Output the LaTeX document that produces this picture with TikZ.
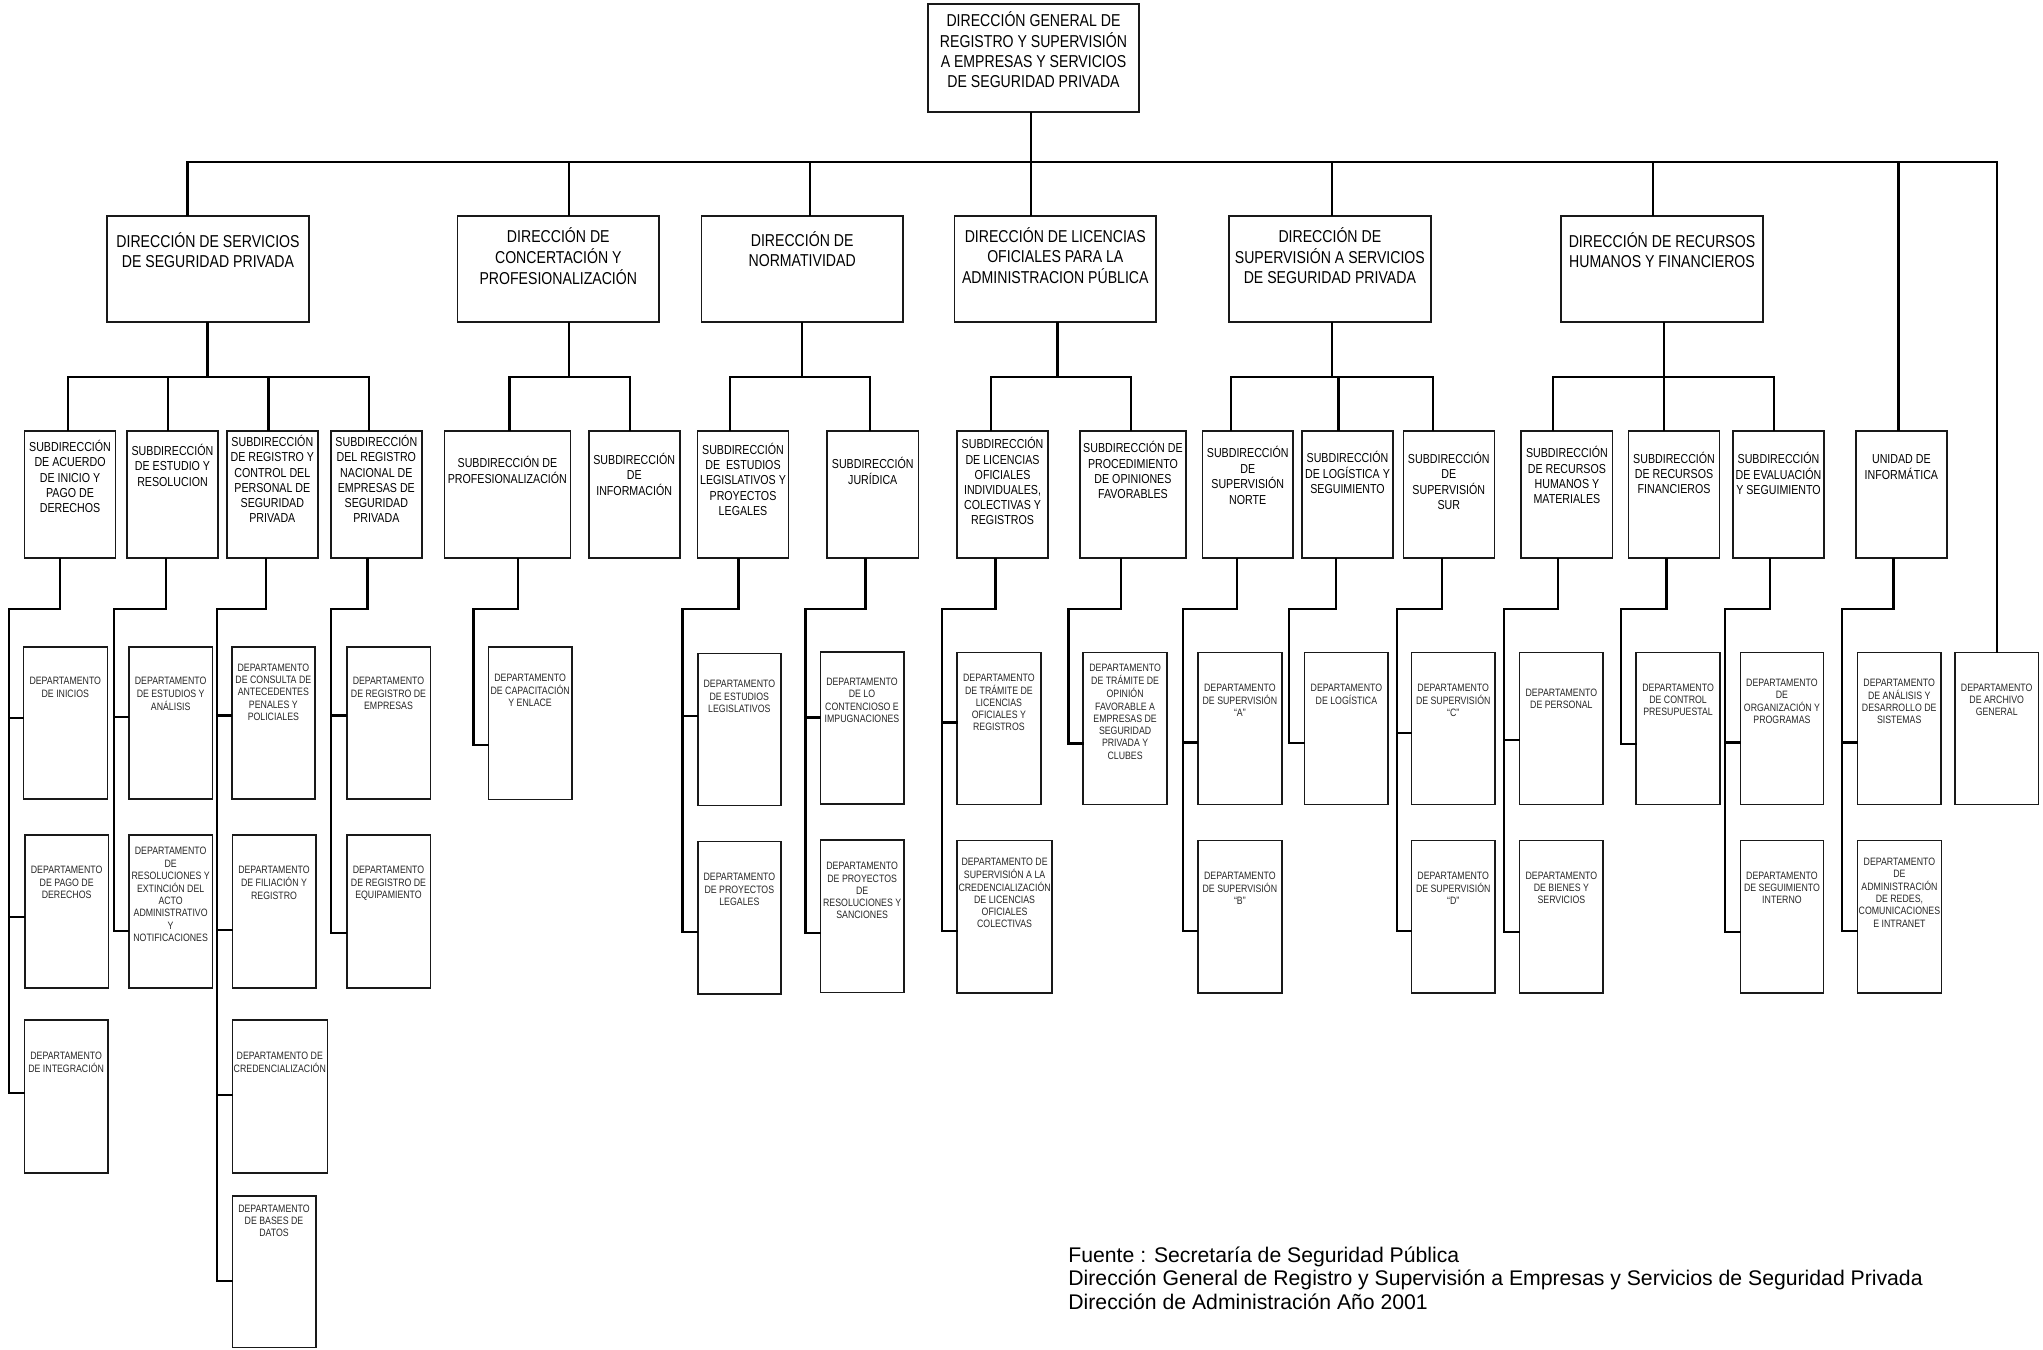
\documentclass[tikz,border=0pt]{standalone}
\usepackage{fontspec}
\setmainfont{Liberation Sans}
\newfontfamily\nar[FakeStretch=0.82]{Liberation Sans}
\usetikzlibrary{fit}
\newcommand\obox[8]{%
  \node[boxsty, fit={(#2,#3) (#4,#5)}] (#1) {};
  \node[#6] (#1t) at ({(#2+#4)/2},#7) {\begin{tabular}[t]{@{}c@{}}#8\end{tabular}};}
\newcommand\subtree[5]{%
  \draw[conn] (#1.south -| #2,0) -- (#2,609) -- (#3,609) -- (#3,#4);
  \foreach \nm/\yy in {#5} {\draw[conn] (#3,\yy) -- (\nm.west |- 0,\yy);}}
\begin{document}
\begin{tikzpicture}[x=0.5pt,y=-0.5pt,
  boxsty/.style={draw=black!90, line width=0.8pt, inner sep=0pt},
  conn/.style={draw=black, line width=1.2pt, line cap=rect},
  t1/.style={font=\nar\fontsize{8.6}{10}\selectfont, inner sep=0pt, anchor=base, yshift=-3.1pt},
  t2/.style={font=\nar\fontsize{6.5}{7.6}\selectfont, inner sep=0pt, anchor=base, yshift=-2.3pt},
  t3/.style={font=\nar\fontsize{5.35}{6.15}\selectfont, inner sep=0pt, anchor=base, yshift=-1.9pt, text=black!85}]
\useasboundingbox (0,0) rectangle (2043,1349);
% top
\obox{T}{928}{4}{1139}{112}{t1}{20.7}{DIRECCIÓN GENERAL DE\\REGISTRO Y SUPERVISIÓN\\A EMPRESAS Y SERVICIOS\\DE SEGURIDAD PRIVADA}
% directions
\obox{D1}{107}{216}{309}{322}{t1}{241.7}{DIRECCIÓN DE SERVICIOS\\DE SEGURIDAD PRIVADA}
\obox{D2}{457.6}{216}{659}{322}{t1}{236.7}{DIRECCIÓN DE\\CONCERTACIÓN Y\\PROFESIONALIZACIÓN}
\obox{D3}{701.6}{216}{902.7}{322}{t1}{240.7}{DIRECCIÓN DE\\NORMATIVIDAD}
\obox{D4}{954.6}{216}{1156}{322}{t1}{236}{DIRECCIÓN DE LICENCIAS\\OFICIALES PARA LA\\ADMINISTRACION PÚBLICA}
\obox{D5}{1229}{216}{1430.7}{322}{t1}{236}{DIRECCIÓN DE\\SUPERVISIÓN A SERVICIOS\\DE SEGURIDAD PRIVADA}
\obox{D6}{1561}{216}{1763}{322}{t1}{241.7}{DIRECCIÓN DE RECURSOS\\HUMANOS Y FINANCIEROS}
% subdirections
\obox{S1a}{24.5}{431}{115.6}{558}{t2}{447}{SUBDIRECCIÓN\\DE ACUERDO\\DE INICIO Y\\PAGO DE\\DERECHOS}
\obox{S1b}{127}{431}{218}{558}{t2}{451}{SUBDIRECCIÓN\\DE ESTUDIO Y\\RESOLUCION}
\obox{S1c}{226.8}{431}{317.9}{558}{t2}{442}{SUBDIRECCIÓN\\DE REGISTRO Y\\CONTROL DEL\\PERSONAL DE\\SEGURIDAD\\PRIVADA}
\obox{S1d}{330.8}{431}{421.9}{558}{t2}{442}{SUBDIRECCIÓN\\DEL REGISTRO\\NACIONAL DE\\EMPRESAS DE\\SEGURIDAD\\PRIVADA}
\obox{S2a}{444.5}{431}{570.3}{558}{t2}{463}{SUBDIRECCIÓN DE\\PROFESIONALIZACIÓN}
\obox{S2b}{588.7}{431}{679.7}{558}{t2}{459.4}{SUBDIRECCIÓN\\DE\\INFORMACIÓN}
\obox{S3a}{697.5}{431}{788.5}{558}{t2}{449.8}{SUBDIRECCIÓN\\DE\ \ ESTUDIOS\\LEGISLATIVOS Y\\PROYECTOS\\LEGALES}
\obox{S3b}{827.2}{431}{918.3}{558}{t2}{463.6}{SUBDIRECCIÓN\\JURÍDICA}
\obox{S4a}{956.9}{431}{1048.2}{558}{t2}{444.3}{SUBDIRECCIÓN\\DE LICENCIAS\\OFICIALES\\INDIVIDUALES,\\COLECTIVAS Y\\REGISTROS}
\obox{S4b}{1079.9}{431}{1186}{558}{t2}{448.3}{SUBDIRECCIÓN DE\\PROCEDIMIENTO\\DE OPINIONES\\FAVORABLES}
\obox{S5a}{1202.5}{431}{1293}{558}{t2}{453.3}{SUBDIRECCIÓN\\DE\\SUPERVISIÓN\\NORTE}
\obox{S5b}{1302}{431}{1393}{558}{t2}{457.7}{SUBDIRECCIÓN\\DE LOGÍSTICA Y\\SEGUIMIENTO}
\obox{S5c}{1403.3}{431}{1494.3}{558}{t2}{458.7}{SUBDIRECCIÓN\\DE\\SUPERVISIÓN\\SUR}
\obox{S6a}{1521.2}{431}{1612.6}{558}{t2}{453.3}{SUBDIRECCIÓN\\DE RECURSOS\\HUMANOS Y\\MATERIALES}
\obox{S6b}{1628.6}{431}{1719.5}{558}{t2}{458.7}{SUBDIRECCIÓN\\DE RECURSOS\\FINANCIEROS}
\obox{S6c}{1733}{431}{1824}{558}{t2}{458.7}{SUBDIRECCIÓN\\DE EVALUACIÓN\\Y SEGUIMIENTO}
\obox{UI}{1855.7}{431}{1947}{558}{t2}{458.7}{UNIDAD DE\\INFORMÁTICA}
% departments
\obox{DInicios}{23.3}{646.7}{107.3}{799}{t3}{681}{DEPARTAMENTO\\DE INICIOS}
\obox{DPago}{25}{835}{108.3}{987.7}{t3}{870}{DEPARTAMENTO\\DE PAGO DE\\DERECHOS}
\obox{DInteg}{24.3}{1020}{108}{1172.7}{t3}{1055.3}{DEPARTAMENTO\\DE INTEGRACIÓN}
\obox{DEstAn}{129}{646.7}{212.3}{799}{t3}{681}{DEPARTAMENTO\\DE ESTUDIOS Y\\ANÁLISIS}
\obox{DResol}{129}{835}{212.3}{987.7}{t3}{851}{DEPARTAMENTO\\DE\\RESOLUCIONES Y\\EXTINCIÓN DEL\\ACTO\\ADMINISTRATIVO\\Y\\NOTIFICACIONES}
\obox{DConsulta}{231.7}{646.7}{315}{799}{t3}{667.3}{DEPARTAMENTO\\DE CONSULTA DE\\ANTECEDENTES\\PENALES Y\\POLICIALES}
\obox{DFiliacion}{232.3}{835}{315.7}{987.7}{t3}{870}{DEPARTAMENTO\\DE FILIACIÓN Y\\REGISTRO}
\obox{DCredenc}{232.3}{1020}{327.3}{1172.7}{t3}{1055.3}{DEPARTAMENTO DE\\CREDENCIALIZACIÓN}
\obox{DBases}{232.3}{1196}{315.7}{1347.5}{t3}{1208.3}{DEPARTAMENTO\\DE BASES DE\\DATOS}
\obox{DEmpresas}{346.7}{646.7}{430.3}{799}{t3}{681}{DEPARTAMENTO\\DE REGISTRO DE\\EMPRESAS}
\obox{DEquip}{346.7}{835}{430.3}{987.7}{t3}{870}{DEPARTAMENTO\\DE REGISTRO DE\\EQUIPAMIENTO}
\obox{DCapac}{488.3}{647}{572}{799.6}{t3}{677.4}{DEPARTAMENTO\\DE CAPACITACIÓN\\Y ENLACE}
\obox{DEstLeg}{697.7}{653.3}{781}{805.4}{t3}{683.9}{DEPARTAMENTO\\DE ESTUDIOS\\LEGISLATIVOS}
\obox{DProyLeg}{697.7}{841.4}{781}{993.9}{t3}{877}{DEPARTAMENTO\\DE PROYECTOS\\LEGALES}
\obox{DContenc}{820.3}{651.7}{903.7}{803.8}{t3}{681.6}{DEPARTAMENTO\\DE LO\\CONTENCIOSO E\\IMPUGNACIONES}
\obox{DProyRes}{820.3}{840}{904}{992.3}{t3}{865.9}{DEPARTAMENTO\\DE PROYECTOS\\DE\\RESOLUCIONES Y\\SANCIONES}
\obox{DTramLic}{957.1}{652.3}{1040.7}{804.3}{t3}{677.3}{DEPARTAMENTO\\DE TRÁMITE DE\\LICENCIAS\\OFICIALES Y\\REGISTROS}
\obox{DSupCred}{957.1}{840.3}{1052.1}{992.7}{t3}{861.3}{DEPARTAMENTO DE\\SUPERVISIÓN A LA\\CREDENCIALIZACIÓN\\DE LICENCIAS\\OFICIALES\\COLECTIVAS}
\obox{DTramOp}{1083.2}{652.3}{1167}{804.3}{t3}{668}{DEPARTAMENTO\\DE TRÁMITE DE\\OPINIÓN\\FAVORABLE A\\EMPRESAS DE\\SEGURIDAD\\PRIVADA Y\\CLUBES}
\obox{DSupA}{1197.9}{652.3}{1281.8}{804.3}{t3}{687.3}{DEPARTAMENTO\\DE SUPERVISIÓN\\“A”}
\obox{DSupB}{1197.9}{840.3}{1281.8}{992.7}{t3}{875.3}{DEPARTAMENTO\\DE SUPERVISIÓN\\“B”}
\obox{DLog}{1304.6}{652.3}{1388.2}{804.3}{t3}{687.3}{DEPARTAMENTO\\DE LOGÍSTICA}
\obox{DSupC}{1411.4}{652.3}{1495}{804.3}{t3}{687.3}{DEPARTAMENTO\\DE SUPERVISIÓN\\“C”}
\obox{DSupD}{1411.4}{840.3}{1495}{992.7}{t3}{875.3}{DEPARTAMENTO\\DE SUPERVISIÓN\\“D”}
\obox{DPersonal}{1519.5}{652.3}{1603.2}{804.3}{t3}{692.3}{DEPARTAMENTO\\DE PERSONAL}
\obox{DBienes}{1519.5}{840.3}{1603.2}{992.7}{t3}{875.3}{DEPARTAMENTO\\DE BIENES Y\\SERVICIOS}
\obox{DControl}{1636.2}{652.3}{1719.9}{804.3}{t3}{687.3}{DEPARTAMENTO\\DE CONTROL\\PRESUPUESTAL}
\obox{DOrg}{1740.3}{652.3}{1823.6}{804.3}{t3}{682.3}{DEPARTAMENTO\\DE\\ORGANIZACIÓN Y\\PROGRAMAS}
\obox{DSegInt}{1740.3}{840.3}{1823.6}{992.7}{t3}{875.3}{DEPARTAMENTO\\DE SEGUIMIENTO\\INTERNO}
\obox{DAnalisis}{1857.4}{652.3}{1941}{804.3}{t3}{682.3}{DEPARTAMENTO\\DE ANÁLISIS Y\\DESARROLLO DE\\SISTEMAS}
\obox{DRedes}{1857.4}{840.3}{1941.4}{992.7}{t3}{861.3}{DEPARTAMENTO\\DE\\ADMINISTRACIÓN\\DE REDES,\\COMUNICACIONES\\E INTRANET}
\obox{DArchivo}{1955}{652.3}{2038.4}{804.3}{t3}{687.3}{DEPARTAMENTO\\DE ARCHIVO\\GENERAL}
% main bus
\draw[conn] (T.south -| 1031,0) -- (D4.north -| 1031,0);
\draw[conn] (187.5,162) -- (1997,162);
\foreach \nm/\xx in {D1/187.5, D2/568.8, D3/810, D5/1332, D6/1652.7, UI/1898.4, DArchivo/1997}
  {\draw[conn] (\xx,162) -- (\nm.north -| \xx,0);}
% direction -> subdirection buses
\draw[conn] (D1.south -| 207.6,0) -- (207.6,376.7);
\draw[conn] (67.9,376.7) -- (368.8,376.7);
\foreach \nm/\xx in {S1a/67.9, S1b/167.9, S1c/268.3, S1d/368.8}
  {\draw[conn] (\xx,376.7) -- (\nm.north -| \xx,0);}
\draw[conn] (D2.south -| 568.8,0) -- (568.8,376.7);
\draw[conn] (509.3,376.7) -- (629.7,376.7);
\foreach \nm/\xx in {S2a/509.3, S2b/629.7}
  {\draw[conn] (\xx,376.7) -- (\nm.north -| \xx,0);}
\draw[conn] (D3.south -| 801.7,0) -- (801.7,377);
\draw[conn] (730,377) -- (870,377);
\foreach \nm/\xx in {S3a/730, S3b/870}
  {\draw[conn] (\xx,377) -- (\nm.north -| \xx,0);}
\draw[conn] (D4.south -| 1057.4,0) -- (1057.4,377);
\draw[conn] (990.8,377) -- (1130.9,377);
\foreach \nm/\xx in {S4a/990.8, S4b/1130.9}
  {\draw[conn] (\xx,377) -- (\nm.north -| \xx,0);}
\draw[conn] (D5.south -| 1332,0) -- (1332,377);
\draw[conn] (1231,377) -- (1432.9,377);
\foreach \nm/\xx in {S5a/1231, S5b/1338.4, S5c/1432.9}
  {\draw[conn] (\xx,377) -- (\nm.north -| \xx,0);}
\draw[conn] (D6.south -| 1664,0) -- (1664,376.7);
\draw[conn] (1553,376.7) -- (1773.7,376.7);
\foreach \nm/\xx in {S6a/1553, S6b/1664, S6c/1773.7}
  {\draw[conn] (\xx,376.7) -- (\nm.north -| \xx,0);}
% subdirection -> departments
\subtree{S1a}{60}{9}{1093}{DInicios/718, DPago/917, DInteg/1093}
\subtree{S1b}{166}{114}{931}{DEstAn/716.7, DResol/931}
\subtree{S1c}{265.7}{216.7}{1281}{DConsulta/715.3, DFiliacion/930, DCredenc/1095, DBases/1281}
\subtree{S1d}{367.3}{330.7}{932.7}{DEmpresas/715.3, DEquip/932.7}
\subtree{S2a}{517.7}{473.3}{744.8}{DCapac/744.8}
\subtree{S3a}{738.3}{682.3}{931.8}{DEstLeg/716, DProyLeg/931.8}
\subtree{S3b}{865.3}{805.3}{933}{DContenc/717.6, DProyRes/933}
\subtree{S4a}{995.4}{941.8}{931}{DTramLic/722.3, DSupCred/931}
\subtree{S4b}{1121}{1068.6}{743.3}{DTramOp/743.3}
\subtree{S5a}{1236.8}{1182.9}{931}{DSupA/742.3, DSupB/931}
\subtree{S5b}{1336}{1288.9}{743}{DLog/743}
\subtree{S5c}{1441.8}{1396.8}{931}{DSupC/733, DSupD/931}
\subtree{S6a}{1557.9}{1504}{931.7}{DPersonal/739.7, DBienes/931.7}
\subtree{S6b}{1666.4}{1621.1}{743.7}{DControl/743.7}
\subtree{S6c}{1770.1}{1725.2}{931.7}{DOrg/742.3, DSegInt/931.7}
\subtree{UI}{1893.3}{1842}{931}{DAnalisis/742.3, DRedes/931}
% source
\node[anchor=base west, inner sep=0pt, font=\fontsize{10.6}{11.75}\selectfont] (src) at (1068,1262)
  {\begin{tabular}[t]{@{}l@{}}Fuente : Secretaría de Seguridad Pública\\Dirección General de Registro y Supervisión a Empresas y Servicios de Seguridad Privada\\Dirección de Administración Año 2001\end{tabular}};
\end{tikzpicture}
\end{document}
